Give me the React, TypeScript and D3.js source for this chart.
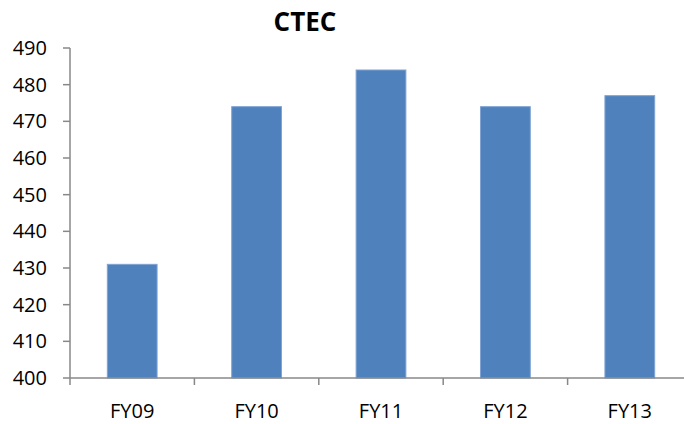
import React from "react";
import * as d3 from "d3";

const categories = ["FY09", "FY10", "FY11", "FY12", "FY13"];
const values = [431, 474, 484, 474, 477];
const yTicks = [400, 410, 420, 430, 440, 450, 460, 470, 480, 490];
const title = "CTEC";

const W = 684;
const H = 424;
const left = 70;
const right = 692;
const top = 48;
const bottom = 378;
const font = "'Open Sans', 'Liberation Sans', sans-serif";

export default function App() {
  const x = d3.scaleBand<string>().domain(categories).range([left, right]).paddingInner(0.6).paddingOuter(0.3);
  const y = d3.scaleLinear().domain([400, 490]).range([bottom, top]);
  const boundaries = d3.range(categories.length + 1).map((i) => left + i * ((right - left) / categories.length));
  return (
    <svg width={W} height={H} style={{ position: "absolute", left: 0, top: 0, background: "#fff" }}>
      <text x={305} y={31} textAnchor="middle" fontFamily={font} fontWeight="bold" fontSize={26} fill="#000">
        {title}
      </text>
      {categories.map((c, i) => (
        <rect
          key={c}
          x={x(c)!}
          y={y(values[i])}
          width={x.bandwidth()}
          height={bottom - y(values[i])}
          fill="#4F81BD"
          stroke="#7FA3D3"
          strokeWidth={1}
        />
      ))}
      <line x1={left} x2={left} y1={top} y2={bottom} stroke="#888" strokeWidth={1.5} />
      {yTicks.map((t) => (
        <g key={t}>
          <line x1={left - 7} x2={left} y1={y(t)} y2={y(t)} stroke="#888" strokeWidth={1.5} />
          <text x={47} y={y(t) + 7} textAnchor="end" fontFamily={font} fontSize={20} fill="#000">
            {t}
          </text>
        </g>
      ))}
      <line x1={left} x2={right} y1={bottom} y2={bottom} stroke="#888" strokeWidth={1.5} />
      {boundaries.map((b, i) => (
        <line key={i} x1={b} x2={b} y1={bottom} y2={bottom + 7} stroke="#888" strokeWidth={1.5} />
      ))}
      {categories.map((c) => (
        <text key={c} x={x(c)! + x.bandwidth() / 2} y={418} textAnchor="middle" fontFamily={font} fontSize={20} fill="#000">
          {c}
        </text>
      ))}
    </svg>
  );
}
